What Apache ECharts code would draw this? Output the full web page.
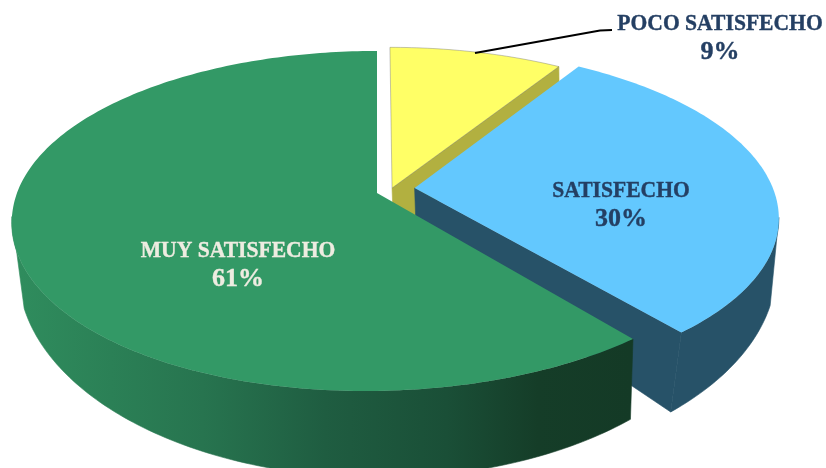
<!DOCTYPE html>
<html>
<head>
<meta charset="utf-8">
<style>
html, body { margin: 0; padding: 0; background: #fff; }
#chart { width: 826px; height: 468px; }
</style>
<script src="https://cdn.jsdelivr.net/npm/echarts@6/dist/echarts.min.js"></script>
</head>
<body>
<div id="chart"></div>
<script>
// clockwise from 12 o'clock, painted back to front
const categories = ['POCO SATISFECHO', 'SATISFECHO', 'MUY SATISFECHO']
const values = [9, 30, 61]

const topColors = ['#ffff66', '#63c8fe', '#339966']
const faceColors = ['#b2b040', '#275268', null]
const textColors = ['#243f63', '#243f63', '#eeece1']
const explodeX = [0.042, 0.105, 0]
const explodeY = [-0.03, -0.03, 0]
const leanX = [0, 0, -10]
const labelX = [720, 621, 238]
const labelY = [38, 205, 265]
const leaderLine = [[475, 53], [600, 30.5], [612, 30]]

// the two rims of the disc, each a circle seen in perspective
const topRim = { cx: 377, cy: 193, rx: 360, ry: 165.4, k: 0.1646, lean: 1, backNarrow: 0, wallFrom: 100, wallTo: 262 }
const bottomRim = { cx: 379, cy: 247, rx: 358, ry: 203, k: 0.12, lean: 0, backNarrow: 0.05, wallFrom: 108, wallTo: 253 }

const project = function (rim, i, x, y) {
  const d = 1 - rim.k * y
  const narrow = y < 0 ? 1 - rim.backNarrow * y * y : 1
  const lean = y > 0 ? rim.lean * leanX[i] * y * y : 0
  return [rim.cx + (rim.rx * x * narrow + lean) / d, rim.cy + rim.ry * y / d]
}

const rimPoint = function (rim, i, deg) {
  const a = deg * Math.PI / 180
  return project(rim, i, Math.sin(a) + explodeX[i], -Math.cos(a) + explodeY[i])
}

const apex = function (rim, i) {
  return project(rim, i, explodeX[i], explodeY[i])
}

const arc = function (rim, i, from, to) {
  const pts = []
  for (let d = from; d < to; d += 1) pts.push(rimPoint(rim, i, d))
  pts.push(rimPoint(rim, i, to))
  return pts
}

// the part of a slice's rim that carries a wall, empty for the back slice
const wallArc = function (rim, i, start, end) {
  const from = Math.max(start, rim.wallFrom)
  const to = Math.min(end, rim.wallTo)
  return from < to ? arc(rim, i, from, to) : []
}

const total = values.reduce((s, v) => s + v, 0)

const wallFill = function (i) {
  if (faceColors[i]) return faceColors[i]
  return new echarts.graphic.LinearGradient(20, 0, 630, 0, [
    { offset: 0, color: '#2f8c5d' },
    { offset: 0.3, color: '#27744f' },
    { offset: 0.5, color: '#1f5d41' },
    { offset: 0.7, color: '#1a4f37' },
    { offset: 0.85, color: '#153d28' },
    { offset: 1, color: '#143a26' }
  ], true)
}

const textEl = function (i, text, y, size, scaleX) {
  return {
    type: 'text',
    z2: 10,
    x: labelX[i],
    y: y,
    scaleX: scaleX,
    style: {
      x: 0,
      y: 0,
      text: text,
      fill: textColors[i],
      stroke: textColors[i],
      lineWidth: 0.4,
      font: 'bold ' + size + 'px "Liberation Serif"',
      align: 'center',
      verticalAlign: 'middle'
    }
  }
}

const renderSlice = function (params) {
  const i = params.dataIndex
  const start = values.slice(0, i).reduce((s, v) => s + v, 0) / total * 360
  const end = start + values[i] / total * 360
  const children = []
  const fill = wallFill(i)

  const wallTop = wallArc(topRim, i, start, end)
  const wallBottom = wallArc(bottomRim, i, start, end)
  if (wallTop.length && wallBottom.length) {
    children.push({
      type: 'polygon',
      shape: { points: wallTop.concat(wallBottom.reverse()) },
      style: { fill: fill, stroke: fill, lineWidth: 0.6 }
    })
  }

  // cut face, only the exploded slices show one
  if (faceColors[i]) {
    children.push({
      type: 'polygon',
      shape: { points: [apex(topRim, i), rimPoint(topRim, i, end), rimPoint(bottomRim, i, end), apex(bottomRim, i)] },
      style: { fill: fill, stroke: fill, lineWidth: 0.6 }
    })
  }

  children.push({
    type: 'polygon',
    shape: { points: [apex(topRim, i)].concat(arc(topRim, i, start, end)) },
    style: { fill: topColors[i], stroke: i === 0 ? 'rgba(110,110,110,0.4)' : null, lineWidth: i === 0 ? 1 : 0 }
  })

  if (i === 0) {
    children.push({
      type: 'polyline',
      shape: { points: leaderLine },
      style: { stroke: '#000', lineWidth: 2, fill: null }
    })
  }

  // Liberation Serif runs wider than the original face, so squeeze the names a bit
  children.push(textEl(i, categories[i], labelY[i] - 14, 24, 0.9))
  children.push(textEl(i, values[i] + '%', labelY[i] + 14, 26, 1))

  return { type: 'group', children: children }
}

const chart = echarts.init(document.getElementById('chart'))
chart.setOption({
  animation: false,
  backgroundColor: '#fff',
  series: [{
    type: 'custom',
    coordinateSystem: 'none',
    renderItem: renderSlice,
    data: values
  }]
})
</script>
</body>
</html>
